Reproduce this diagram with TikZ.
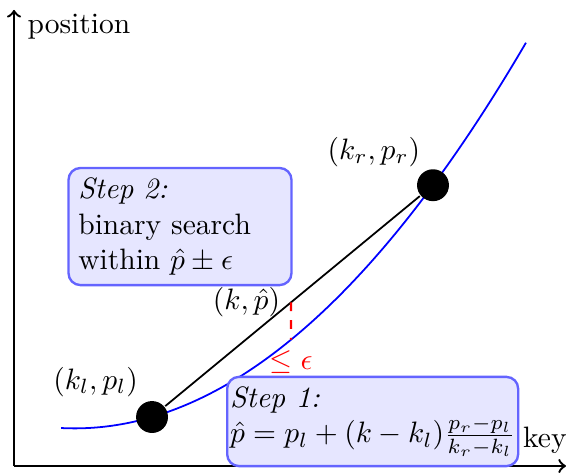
\documentclass[tikz,border=0pt]{standalone}
\usepackage{amsmath}
\usepackage{amssymb}
\usetikzlibrary{positioning,calc}

\begin{document}
\begin{tikzpicture}[
        thick,
        declare function={pos(\x)=0.448+0.159*(\x-0.721)^2;},
        dot/.style={circle, fill=black, inner sep=0pt, minimum size=0.38cm},
        stepbox/.style={draw=boxborder, fill=boxfill, rounded corners, align=left}
    ]

        % --- COLORES ---
        \definecolor{boxfill}{RGB}{230, 230, 255}
        \definecolor{boxborder}{RGB}{100, 100, 255}

        % --- MARCO ---
        \useasboundingbox (-0.167,-0.083) rectangle (6.631,5.548);

        % --- EJES ---
        \coordinate (O) at (0,0);
        \coordinate (xend) at (6.571,0);
        \coordinate (yend) at (0,5.43);
        \draw[->] (O) -- (xend);
        \draw[->] (O) -- (yend);
        \node[anchor=base west] (poslab) at (0.03,5.155) {position};
        \node[anchor=base west] (keylab) at (5.93,0.226) {key};

        % --- CURVA ---
        \draw[blue, semithick] plot[domain=0.56:6.095, samples=60, smooth] (\x, {pos(\x)});

        % --- PUNTOS ---
        \def\keyl{1.643}
        \def\keyr{4.988}
        \def\keym{3.298}
        \pgfmathsetmacro\frac{(\keym-\keyl)/(\keyr-\keyl)}
        \node[dot] (kl) at (\keyl, {pos(\keyl)}) {};
        \node[dot] (kr) at (\keyr, {pos(\keyr)}) {};
        \node[above left=-1pt and -3pt of kl] (kllab) {$(k_l,p_l)$};
        \node[above left=-1.5pt and -3.5pt of kr] (krlab) {$(k_r,p_r)$};

        % --- INTERPOLACION ---
        \draw[semithick] (kl) -- (kr);
        \coordinate (phat) at ($(kl.center)!\frac!(kr.center)$);
        \coordinate (pk) at (\keym, {pos(\keym)});
        \draw[red, dashed] (phat) -- (pk);
        \node[left] (phatlab) at (phat) {$(k,\hat{p})$};
        \node[below, red] (epslab) at (pk) {$\leq \epsilon$};

        % --- PASOS ---
        \node[stepbox, text width=2.42cm] (step2) at (1.976,2.851)
            {\textit{Step 2:}\\binary search\\within $\hat{p}\pm\epsilon$};
        \node[stepbox, inner xsep=1pt] (step1) at (4.27,0.530)
            {\textit{Step 1:}\\$\hat{p}=p_l+(k-k_l)\tfrac{p_r-p_l}{k_r-k_l}$};

    \end{tikzpicture}
\end{document}
